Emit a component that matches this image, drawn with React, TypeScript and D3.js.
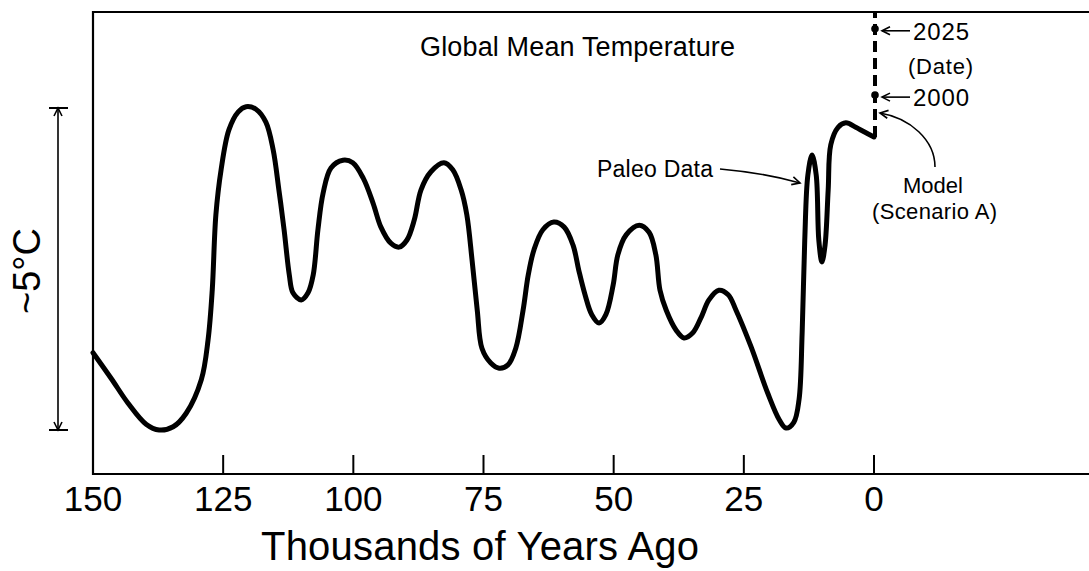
import React from 'react';
import * as d3 from 'd3';

// Paleo curve: thousands of years ago vs. relative temperature (°C above the glacial minimum)
const kyrAgo = [
  150, 146.5, 143.3, 139.8, 137.3, 134.6, 132.1, 129.2, 127.9, 127.1, 126.4, 125.4, 123.9, 122.1, 120.6,
  118.7, 116.8, 115.4, 114.3, 113.3, 112.3, 111.6, 110.0, 108.7, 107.7, 106.8, 105.8, 104.3, 102.0, 100.1,
  98.1, 96.2, 94.7, 92.8, 91.2, 89.7, 88.3, 87.0, 85.1, 82.6, 80.9, 79.3, 78.2, 77.2, 76.2,
  75.3, 73.6, 72.0, 70.3, 68.8, 67.4, 66.4, 65.3, 63.6, 61.5, 59.5, 57.8, 56.7, 55.5, 54.2,
  52.8, 51.5, 50.1, 49.2, 47.6, 45.1, 43.2, 41.9, 41.1, 39.9, 38.0, 36.5, 34.8, 33.2, 31.7,
  29.8, 28.0, 26.5, 23.6, 20.4, 18.2, 16.9, 15.4, 14.4, 13.8, 13.3, 12.7, 11.9, 11.1, 10.6,
  10.0, 9.4, 8.8, 8.3, 6.9, 5.4, 3.5, 1.9, 0,
];
const paleoTemp = [
  1.2, 0.8, 0.42, 0.09, 0.0, 0.05, 0.26, 0.78, 1.4, 2.17, 3.34, 4.04, 4.66, 4.94, 5.02,
  4.98, 4.78, 4.35, 3.73, 3.11, 2.41, 2.13, 2.02, 2.13, 2.41, 3.11, 3.68, 4.07, 4.19, 4.15,
  3.91, 3.52, 3.15, 2.9, 2.84, 2.95, 3.26, 3.73, 4.01, 4.15, 4.04, 3.73, 3.34, 2.64, 1.86,
  1.27, 1.04, 0.96, 1.01, 1.27, 1.86, 2.41, 2.8, 3.11, 3.23, 3.15, 2.87, 2.48, 2.1, 1.79,
  1.66, 1.79, 2.25, 2.72, 3.03, 3.18, 3.07, 2.72, 2.17, 1.86, 1.55, 1.43, 1.51, 1.75, 2.02,
  2.17, 2.1, 1.86, 1.29, 0.57, 0.16, 0.03, 0.12, 0.47, 1.51, 2.95, 3.96, 4.27, 3.96, 2.95,
  2.61, 2.87, 3.73, 4.43, 4.7, 4.77, 4.7, 4.63, 4.55,
];

// Model (Scenario A) projection, drawn at the present day
const modelKyr = [0, 0, 0, 0];
const modelTemp = [4.55, 5.2, 6.23, 6.49];
const markerLabels = ['2025', '2000'];
const markerTemp = [6.23, 5.2];

const xTicks = [150, 125, 100, 75, 50, 25, 0];
const scaleSpan = [0, 5]; // ~5°C bracket

const FONT = '"Liberation Sans", Arial, sans-serif';

export default function App() {
  const W = 1089;
  const H = 571;
  const left = 93;
  const top = 12;
  const bottom = 474;

  const x = d3.scaleLinear().domain([150, 0]).range([left, 874]);
  const y = d3.scaleLinear().domain([0, 5]).range([430, 108]);

  const line = d3
    .line<number>()
    .x((_, i) => x(kyrAgo[i]))
    .y((d) => y(d))
    .curve(d3.curveCatmullRom.alpha(0.5));

  const modelLine = d3
    .line<number>()
    .x((_, i) => x(modelKyr[i]) + 1)
    .y((d) => y(d));

  const bracketX = 58;

  return (
    <svg
      width={W}
      height={H}
      style={{ position: 'absolute', left: 0, top: 0, background: '#fff' }}
      fontFamily={FONT}
    >
      <defs>
        <marker
          id="arr"
          viewBox="-10 -6 12 12"
          refX={0}
          refY={0}
          markerWidth={12}
          markerHeight={12}
          markerUnits="userSpaceOnUse"
          orient="auto-start-reverse"
        >
          <path d="M-8,-4 L0,0 L-8,4" fill="none" stroke="#000" strokeWidth={1.6} />
        </marker>
      </defs>

      <rect x={0} y={0} width={W} height={H} fill="#fff" />

      {/* frame */}
      <path
        d={`M${W + 5},${top} L${left},${top} L${left},${bottom} L${W + 5},${bottom}`}
        fill="none"
        stroke="#000"
        strokeWidth={2.2}
      />
      {xTicks.map((t) => (
        <g key={t}>
          <line x1={x(t)} x2={x(t)} y1={bottom} y2={bottom - 19} stroke="#000" strokeWidth={2} />
          <text x={x(t)} y={511} textAnchor="middle" fontSize={35}>
            {t}
          </text>
        </g>
      ))}
      <text x={480} y={560} textAnchor="middle" fontSize={40} textLength={438} lengthAdjust="spacing">
        Thousands of Years Ago
      </text>

      {/* ~5°C bracket */}
      <line
        x1={bracketX}
        x2={bracketX}
        y1={y(scaleSpan[1])}
        y2={y(scaleSpan[0])}
        stroke="#000"
        strokeWidth={1.6}
        markerStart="url(#arr)"
        markerEnd="url(#arr)"
      />
      {scaleSpan.map((s) => (
        <line key={s} x1={bracketX - 9} x2={bracketX + 10} y1={y(s)} y2={y(s)} stroke="#000" strokeWidth={2} />
      ))}
      <text
        transform={`translate(40,${(y(scaleSpan[0]) + y(scaleSpan[1])) / 2 + 2}) rotate(-90)`}
        textAnchor="middle"
        fontSize={38}
      >
        ~5°C
      </text>

      {/* paleo curve */}
      <path d={line(paleoTemp) || ''} fill="none" stroke="#000" strokeWidth={5} strokeLinejoin="round" strokeLinecap="round" />

      {/* model dashed line */}
      <path d={modelLine(modelTemp) || ''} fill="none" stroke="#000" strokeWidth={4} strokeDasharray="11 6" />
      {markerTemp.map((t, i) => (
        <g key={markerLabels[i]}>
          <circle cx={x(0) + 1} cy={y(t)} r={3.8} fill="#000" />
          <line
            x1={x(0) + 36}
            x2={x(0) + 8}
            y1={y(t) + 2}
            y2={y(t) + 2}
            stroke="#000"
            strokeWidth={1.6}
            markerEnd="url(#arr)"
          />
          <text x={x(0) + 39} y={y(t) + 11} fontSize={24} textLength={56} lengthAdjust="spacing">
            {markerLabels[i]}
          </text>
        </g>
      ))}
      <text x={908} y={74} fontSize={22} textLength={65} lengthAdjust="spacing">
        (Date)
      </text>

      {/* annotations */}
      <text x={420} y={56} fontSize={27} textLength={315} lengthAdjust="spacing">
        Global Mean Temperature
      </text>
      <text x={597} y={177} fontSize={23} textLength={116} lengthAdjust="spacing">
        Paleo Data
      </text>
      <path d="M720,169 Q765,173 800,183" fill="none" stroke="#000" strokeWidth={1.6} markerEnd="url(#arr)" />

      <text x={903} y={193} fontSize={22} textLength={60} lengthAdjust="spacing">
        Model
      </text>
      <text x={872} y={219} fontSize={22} textLength={125} lengthAdjust="spacing">
        (Scenario A)
      </text>
      <path d="M935,167 C935,140 910,118 880,113" fill="none" stroke="#000" strokeWidth={1.6} markerEnd="url(#arr)" />
    </svg>
  );
}
